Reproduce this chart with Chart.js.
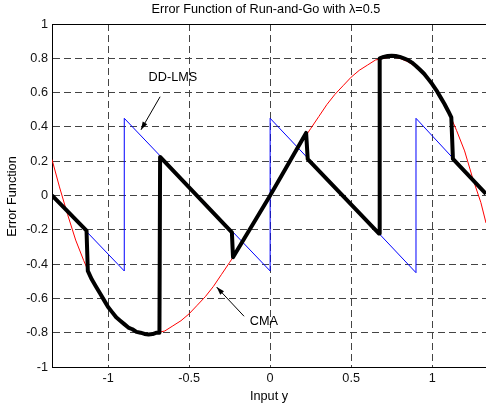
<!DOCTYPE html>
<html>
<head>
<meta charset="utf-8">
<script src="https://cdn.jsdelivr.net/npm/chart.js@4.4.1/dist/chart.umd.min.js"></script>
<style>
  html, body { margin: 0; padding: 0; background: #fff; }
  #wrap { width: 486px; height: 408px; }
</style>
</head>
<body>
<div id="wrap"><canvas id="errfn"></canvas></div>
<script>
const xTicks = [-1, -0.5, 0, 0.5, 1];
const yTicks = [-1, -0.8, -0.6, -0.4, -0.2, 0, 0.2, 0.4, 0.6, 0.8, 1];

// CMA error function (red)
const cmaX = [-1.346, -1.3, -1.25, -1.2, -1.15, -1.1, -1.05, -1.0, -0.95, -0.9, -0.85, -0.8, -0.75, -0.7,
  -0.65, -0.6, -0.55, -0.5, -0.45, -0.4, -0.35, -0.3, -0.25, -0.2, -0.15, -0.1, -0.05, 0,
  0.05, 0.1, 0.15, 0.2, 0.25, 0.3, 0.35, 0.4, 0.45, 0.5, 0.55, 0.6, 0.65, 0.7,
  0.75, 0.8, 0.85, 0.9, 0.95, 1.0, 1.05, 1.1, 1.15, 1.2, 1.25, 1.3, 1.332];
const cmaY = [0.21, 0.05, -0.11, -0.26, -0.38, -0.49, -0.57, -0.65, -0.71, -0.75, -0.78, -0.80, -0.81, -0.80,
  -0.79, -0.76, -0.73, -0.69, -0.64, -0.59, -0.53, -0.46, -0.39, -0.32, -0.24, -0.16, -0.08, 0,
  0.08, 0.16, 0.24, 0.32, 0.39, 0.46, 0.53, 0.59, 0.64, 0.69, 0.73, 0.76, 0.79, 0.80,
  0.81, 0.80, 0.78, 0.75, 0.71, 0.65, 0.57, 0.49, 0.38, 0.26, 0.10, -0.04, -0.16];

// DD-LMS error function (blue)
const ddlmsX = [-1.346, -0.9, -0.9, 0, 0, 0.9, 0.9, 1.332];
const ddlmsY = [0.0, -0.44, 0.45, -0.44, 0.45, -0.45, 0.45, 0.01];

// Run-and-Go error function (thick black)
const rgX = [-1.346, -1.133, -1.125, -1.1, -1.075, -1.05, -1.025, -1.0, -0.975, -0.95, -0.925, -0.9,
  -0.875, -0.85, -0.825, -0.8, -0.775, -0.75, -0.725, -0.7, -0.683,
  -0.679, -0.236, -0.229, 0, 0.222, 0.232, 0.672,
  0.676, 0.7, 0.725, 0.75, 0.775, 0.8, 0.825, 0.85, 0.875, 0.9, 0.925, 0.95, 0.975, 1.0, 1.025, 1.05,
  1.075, 1.1, 1.118, 1.128, 1.332];
const rgY = [0.0, -0.205, -0.44, -0.49, -0.53, -0.57, -0.61, -0.65, -0.68, -0.71, -0.73, -0.75,
  -0.77, -0.78, -0.795, -0.80, -0.807, -0.81, -0.808, -0.80, -0.80,
  0.225, -0.215, -0.36, 0.0, 0.365, 0.212, -0.222,
  0.80, 0.808, 0.813, 0.815, 0.813, 0.808, 0.80, 0.79, 0.775, 0.755, 0.733, 0.71, 0.68, 0.65, 0.615, 0.575,
  0.535, 0.49, 0.455, 0.213, 0.01];

const titleText = 'Error Function of Run-and-Go with \u03bb=0.5';
const FONT = '"Liberation Sans", Arial, sans-serif';
const FSIZE = 12.7;

// text labels with arrows, in data units
const notes = [
  { text: 'DD-LMS', at: [-0.600, 0.688], from: [-0.679, 0.576], to: [-0.797, 0.383] },
  { text: 'CMA', at: [-0.039, -0.736], from: [-0.161, -0.704], to: [-0.330, -0.534] }
];

function toPoints(xs, ys) {
  return xs.map((x, i) => ({ x: x, y: ys[i] }));
}

const decor = {
  id: 'decor',
  afterDraw(chart) {
    const { ctx, chartArea: a } = chart;
    const xs = chart.scales.x, ys = chart.scales.y;
    ctx.save();
    // top frame line
    ctx.strokeStyle = '#000';
    ctx.lineWidth = 1;
    ctx.beginPath();
    ctx.moveTo(a.left, Math.round(a.top) + 0.5);
    ctx.lineTo(a.right, Math.round(a.top) + 0.5);
    ctx.stroke();

    ctx.fillStyle = '#000';
    ctx.font = FSIZE + 'px ' + FONT;
    ctx.textAlign = 'center';
    ctx.textBaseline = 'middle';
    ctx.fillText(titleText, 266, 9.5);
    ctx.fillText('Input y', 269, 396);

    ctx.save();
    ctx.translate(12, ys.getPixelForValue(0) + 1);
    ctx.rotate(-Math.PI / 2);
    ctx.fillText('Error Function', 0, 0);
    ctx.restore();

    notes.forEach(n => {
      ctx.fillText(n.text, xs.getPixelForValue(n.at[0]), ys.getPixelForValue(n.at[1]));
      const x0 = xs.getPixelForValue(n.from[0]), y0 = ys.getPixelForValue(n.from[1]);
      const x1 = xs.getPixelForValue(n.to[0]), y1 = ys.getPixelForValue(n.to[1]);
      ctx.lineWidth = 1;
      ctx.beginPath();
      ctx.moveTo(x0, y0);
      ctx.lineTo(x1, y1);
      ctx.stroke();
      const ang = Math.atan2(y1 - y0, x1 - x0);
      const len = 8, half = 2.6;
      ctx.beginPath();
      ctx.moveTo(x1, y1);
      ctx.lineTo(x1 - len * Math.cos(ang) + half * Math.sin(ang), y1 - len * Math.sin(ang) - half * Math.cos(ang));
      ctx.lineTo(x1 - len * Math.cos(ang) - half * Math.sin(ang), y1 - len * Math.sin(ang) + half * Math.cos(ang));
      ctx.closePath();
      ctx.fill();
    });
    ctx.restore();
  }
};

const ctx = document.getElementById('errfn').getContext('2d');
new Chart(ctx, {
  type: 'scatter',
  data: {
    datasets: [
      {
        label: 'Run-and-Go',
        data: toPoints(rgX, rgY),
        showLine: true,
        borderColor: '#000',
        borderWidth: 4,
        borderJoinStyle: 'round',
        pointRadius: 0
      },
      {
        label: 'DD-LMS',
        data: toPoints(ddlmsX, ddlmsY),
        showLine: true,
        borderColor: '#0000ff',
        borderWidth: 1,
        pointRadius: 0
      },
      {
        label: 'CMA',
        data: toPoints(cmaX, cmaY),
        showLine: true,
        borderColor: '#ff0000',
        borderWidth: 1,
        pointRadius: 0
      }
    ]
  },
  options: {
    responsive: true,
    maintainAspectRatio: false,
    animation: false,
    layout: { padding: { top: 24, left: 0, right: 0, bottom: 0 } },
    scales: {
      x: {
        type: 'linear',
        min: -1.346,
        max: 1.332,
        afterBuildTicks: (scale) => { scale.ticks = xTicks.map(v => ({ value: v })); },
        afterFit: (scale) => { scale.height = 41; },
        grid: { color: '#444', lineWidth: 1, drawTicks: false },
        border: { display: true, color: '#000', width: 1, dash: [7, 4] },
        ticks: {
          padding: 4,
          color: '#111',
          font: { family: FONT, size: FSIZE },
          maxRotation: 0,
          callback: (v) => String(v)
        }
      },
      y: {
        type: 'linear',
        min: -1,
        max: 1,
        afterBuildTicks: (scale) => { scale.ticks = yTicks.map(v => ({ value: v })); },
        afterFit: (scale) => { scale.width = 52; },
        grid: { color: '#444', lineWidth: 1, drawTicks: false },
        border: { display: true, color: '#000', width: 1, dash: [7, 4] },
        ticks: {
          padding: 4,
          color: '#111',
          font: { family: FONT, size: FSIZE },
          callback: (v) => String(v)
        }
      }
    },
    plugins: {
      legend: { display: false },
      tooltip: { enabled: false },
      title: { display: false }
    }
  },
  plugins: [decor]
});
</script>
</body>
</html>
